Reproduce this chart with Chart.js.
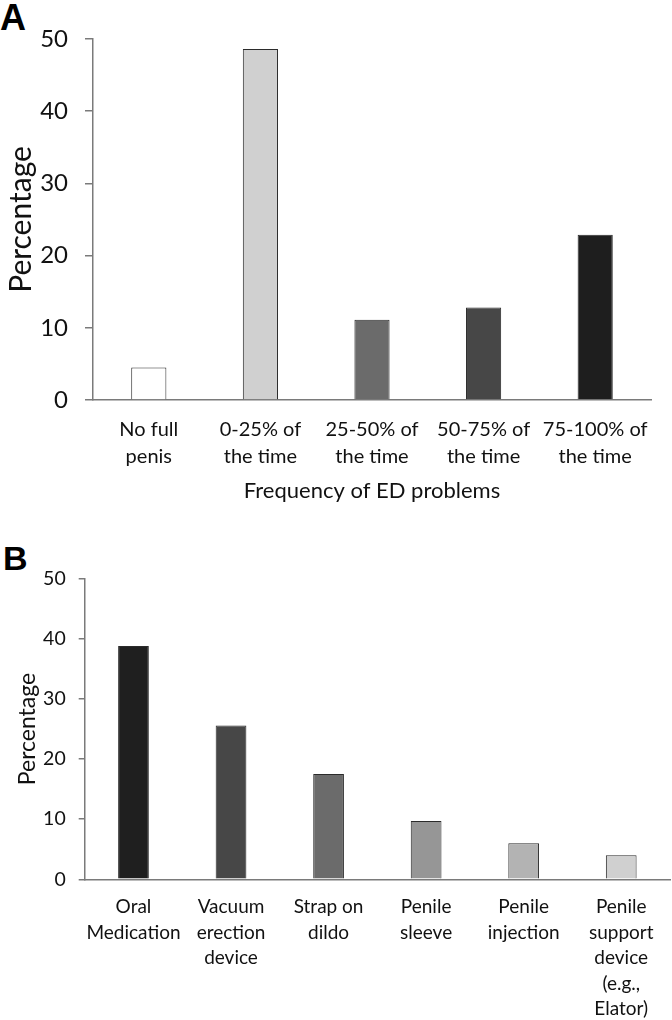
<!DOCTYPE html>
<html>
<head>
<meta charset="utf-8">
<script src="https://cdn.jsdelivr.net/npm/chart.js@4.4.1/dist/chart.umd.min.js"></script>
<style>
    html, body { margin: 0; padding: 0; background: #ffffff; }
    body { width: 672px; height: 1020px; position: relative; overflow: hidden; }
    .panel { position: absolute; left: 0; width: 672px; }
    .letter {
        position: absolute;
        font-family: 'Liberation Sans', Arial, sans-serif;
        font-weight: bold;
        line-height: 1;
        color: #000000;
    }
</style>
</head>
<body>

<div class="letter" style="left:0px; top:0px; font-size:36px;">A</div>
<div class="panel" style="top:0; height:512px;"><canvas id="chart-a"></canvas></div>

<div class="letter" style="left:3px; top:541px; font-size:34px;">B</div>
<div class="panel" style="top:512px; height:508px;"><canvas id="chart-b"></canvas></div>

<script>
// Panel A - frequency of ED problems
const freqCategories = [
    ['No full', 'penis'],
    ['0-25% of', 'the time'],
    ['25-50% of', 'the time'],
    ['50-75% of', 'the time'],
    ['75-100% of', 'the time']
];
const freqValues = [4.5, 48.6, 11.1, 12.8, 22.9];
const freqColors = ['#ffffff', '#d0d0d0', '#6b6b6b', '#474747', '#1e1e1e'];

// Panel B - devices / treatments used
const deviceCategories = [
    ['Oral', 'Medication'],
    ['Vacuum', 'erection', 'device'],
    ['Strap on', 'dildo'],
    ['Penile', 'sleeve'],
    ['Penile', 'injection'],
    ['Penile', 'support', 'device', '(e.g.,', 'Elator)']
];
const deviceValues = [38.8, 25.6, 17.5, 9.7, 6.0, 4.0];
const deviceColors = ['#1f1f1f', '#474747', '#6b6b6b', '#969696', '#b3b3b3', '#d0d0d0'];

// Shared y tick labels
const percentTicks = [0, 10, 20, 30, 40, 50];

const FONT = 'Lato';
const TEXT = '#111111';
const AXIS = '#7a7a7a';

/**
 * Build one bar chart. Sizes are in px so the plot area lands where the
 * reference has it.
 */
function makeBarChart(id, cfg) {
    const ctx = document.getElementById(id);

    return new Chart(ctx, {
        type: 'bar',
        data: {
            labels: cfg.labels,
            datasets: [{
                data: cfg.values,
                backgroundColor: cfg.colors,
                borderColor: '#2b2b2b',
                borderWidth: 1,
                categoryPercentage: 1,
                barPercentage: 0.315
            }]
        },
        options: {
            responsive: true,
            maintainAspectRatio: false,
            animation: false,
            layout: {
                padding: { top: cfg.top, right: cfg.right, left: 0, bottom: 0 }
            },
            plugins: {
                legend: { display: false },
                tooltip: { enabled: false }
            },
            scales: {
                x: {
                    grid: { display: false, drawTicks: false },
                    border: { display: true, color: AXIS, width: 1.5 },
                    ticks: {
                        color: TEXT,
                        maxRotation: 0,
                        minRotation: 0,
                        autoSkip: false,
                        padding: cfg.xPad,
                        font: { family: FONT, size: cfg.xSize, lineHeight: cfg.xLine }
                    },
                    title: {
                        display: !!cfg.xTitle,
                        text: cfg.xTitle || '',
                        color: TEXT,
                        padding: { top: 0, bottom: 8 },
                        font: { family: FONT, size: 22, lineHeight: 1.2 }
                    },
                    afterFit: (scale) => { scale.height = cfg.xHeight; }
                },
                y: {
                    min: 0,
                    max: 50,
                    grid: {
                        drawOnChartArea: false,
                        drawTicks: true,
                        tickLength: cfg.tickLen,
                        color: AXIS,
                        lineWidth: 1.5
                    },
                    border: { display: true, color: AXIS, width: 1.5 },
                    afterBuildTicks: (scale) => {
                        scale.ticks = percentTicks.map(v => ({ value: v }));
                    },
                    ticks: {
                        color: TEXT,
                        padding: cfg.yPad,
                        font: { family: FONT, size: cfg.ySize }
                    },
                    title: {
                        display: true,
                        text: 'Percentage',
                        color: TEXT,
                        padding: { top: cfg.yTitlePad, bottom: 0 },
                        font: { family: FONT, size: cfg.yTitleSize, lineHeight: 1.2 }
                    },
                    afterFit: (scale) => { scale.width = cfg.yWidth; }
                }
            }
        }
    });
}

makeBarChart('chart-a', {
    labels: freqCategories,
    values: freqValues,
    colors: freqColors,
    top: 39,
    right: 21,
    yWidth: 93,
    xHeight: 112,
    tickLen: 8,
    yPad: 17,
    ySize: 24,
    yTitleSize: 30,
    yTitlePad: 3,
    xPad: 16,
    xSize: 20,
    xLine: 1.35,
    xTitle: 'Frequency of ED problems'
});

makeBarChart('chart-b', {
    labels: deviceCategories,
    values: deviceValues,
    colors: deviceColors,
    top: 66.7,
    right: 2,
    yWidth: 84.7,
    xHeight: 140.7,
    tickLen: 6,
    yPad: 13,
    ySize: 19.5,
    yTitleSize: 23,
    yTitlePad: 14,
    xPad: 15,
    xSize: 19,
    xLine: 1.34,
    xTitle: null
});
</script>
</body>
</html>
